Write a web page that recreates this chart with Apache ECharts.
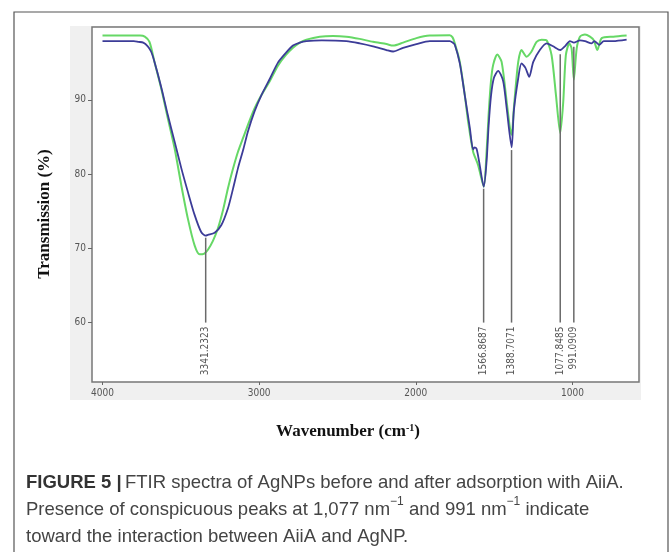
<!DOCTYPE html>
<html>
<head>
<meta charset="utf-8">
<script src="https://cdn.jsdelivr.net/npm/echarts@6/dist/echarts.min.js"></script>
<style>
  html, body { margin: 0; padding: 0; background: #fff; }
  #chart { width: 670px; height: 552px; }
</style>
</head>
<body>
<div id="chart"></div>
<script>
// green spectrum (before adsorption)
const greenWn = [4000, 3760, 3730, 3700, 3668, 3625, 3583, 3540, 3497, 3455, 3412, 3380, 3350, 3327, 3295, 3263, 3230, 3199, 3167, 3135, 3100, 3072, 3030, 2986, 2930, 2880, 2830, 2784, 2740, 2698, 2613, 2528, 2443, 2358, 2273, 2187, 2145, 2081, 1996, 1911, 1783, 1765, 1751, 1719, 1687, 1666, 1634, 1602, 1566, 1548, 1535, 1520, 1506, 1480, 1452, 1420, 1399, 1388, 1375, 1367, 1346, 1325, 1293, 1261, 1229, 1197, 1165, 1133, 1105, 1078, 1059, 1042, 1020, 1005, 991, 973, 952, 920, 888, 863, 841, 813, 739, 654];
const greenT = [98.65, 98.65, 98.5, 97.8, 95.1, 91.5, 87.5, 83.5, 78.5, 74.0, 70.4, 69.2, 69.3, 69.8, 71.0, 72.7, 75.2, 78.1, 80.7, 83.0, 85.0, 86.6, 88.8, 90.6, 92.6, 94.6, 96.0, 97.0, 97.7, 98.1, 98.5, 98.6, 98.5, 98.2, 97.8, 97.5, 97.3, 97.7, 98.3, 98.65, 98.7, 98.4, 97.6, 95.1, 90.6, 87.1, 83.0, 81.2, 78.3, 83.0, 88.0, 92.5, 94.7, 96.1, 95.1, 89.8, 86.2, 85.3, 88.5, 90.6, 95.1, 96.7, 95.8, 96.5, 97.8, 98.1, 98.0, 96.0, 90.6, 85.5, 89.6, 96.0, 97.6, 96.9, 92.7, 96.9, 98.5, 98.8, 98.5, 98.0, 96.7, 98.3, 98.5, 98.65];

// blue spectrum (after adsorption)
const blueWn = [4000, 3800, 3770, 3740, 3711, 3690, 3668, 3625, 3583, 3540, 3497, 3455, 3412, 3370, 3341, 3327, 3284, 3242, 3199, 3167, 3135, 3100, 3072, 3030, 2986, 2930, 2880, 2830, 2784, 2740, 2698, 2600, 2443, 2358, 2273, 2187, 2145, 2081, 1996, 1911, 1783, 1765, 1751, 1719, 1687, 1655, 1634, 1625, 1612, 1595, 1566, 1548, 1535, 1520, 1502, 1474, 1442, 1420, 1388, 1374, 1346, 1325, 1300, 1276, 1250, 1208, 1165, 1123, 1077, 1048, 1016, 991, 952, 920, 877, 860, 829, 800, 740, 654];
const blueT = [97.9, 97.9, 97.8, 97.7, 97.2, 96.5, 95.1, 91.7, 87.95, 84.4, 80.8, 77.6, 74.5, 72.2, 71.7, 71.8, 72.1, 73.1, 75.4, 78.0, 80.8, 83.4, 85.7, 88.4, 90.6, 92.9, 95.0, 96.3, 97.3, 97.7, 97.9, 98.0, 97.9, 97.6, 97.2, 96.7, 96.5, 97.0, 97.5, 97.9, 97.9, 97.7, 97.4, 94.9, 90.6, 86.2, 83.3, 83.6, 83.4, 81.6, 78.3, 81.7, 86.5, 90.5, 92.9, 93.9, 92.5, 88.9, 83.6, 88.5, 92.9, 94.9, 94.3, 93.1, 95.1, 96.7, 97.6, 97.2, 96.7, 97.2, 97.9, 97.7, 98.0, 97.9, 97.6, 97.9, 97.4, 97.9, 97.9, 98.1];

// marked peaks
const peakWn = [3341.2323, 1566.8687, 1388.7071, 1077.8485, 991.0909];
const peakT = [71.7, 78.3, 83.5, 96.4, 97.4];

const xTicks = [4000, 3000, 2000, 1000];
const yTicks = [60, 70, 80, 90];

const pairs = (xs, ys) => xs.map((x, i) => [x, ys[i]]);

const tickFont = "'Liberation Sans Narrow', 'DejaVu Sans Condensed', 'Liberation Sans', sans-serif";
const serif = "'Liberation Serif', 'DejaVu Serif', serif";
const sans = "'Liberation Sans', Arial, sans-serif";

const chart = echarts.init(document.getElementById("chart"), null, { renderer: "canvas" });

chart.setOption({
  animation: false,
  grid: {
    left: 92,
    top: 27,
    right: 31,
    bottom: 170,
    show: true,
    backgroundColor: "#fff",
    borderColor: "#777",
    borderWidth: 1.5,
  },
  xAxis: {
    type: "value",
    inverse: true,
    min: 575,
    max: 4067,
    splitNumber: 4,
    axisLine: { show: false },
    splitLine: { show: false },
    axisTick: { length: 3, lineStyle: { color: "#666" } },
    axisLabel: {
      showMinLabel: false,
      showMaxLabel: false,
      margin: 6,
      color: "#555",
      fontSize: 10,
      fontFamily: tickFont,
      formatter: (v) => (xTicks.includes(v) ? String(v) : ""),
    },
  },
  yAxis: {
    type: "value",
    min: 52,
    max: 99.8,
    splitNumber: 5,
    axisLine: { show: false },
    splitLine: { show: false },
    axisTick: { length: 4, lineStyle: { color: "#666" } },
    axisLabel: {
      showMinLabel: false,
      showMaxLabel: false,
      margin: 6,
      color: "#555",
      fontSize: 10,
      fontFamily: tickFont,
      formatter: (v) => (yTicks.includes(v) ? String(v) : ""),
    },
  },
  graphic: [
    {
      type: "rect",
      z: -10,
      shape: { x: 70, y: 26, width: 571, height: 374 },
      style: { fill: "#f0f0f0" },
    },
    {
      type: "rect",
      shape: { x: 14, y: 12, width: 654, height: 600 },
      style: { fill: null, stroke: "#555", lineWidth: 1.2 },
    },
    {
      type: "text",
      x: 45,
      y: 214,
      rotation: Math.PI / 2,
      style: {
        text: "Transmission (%)",
        align: "center",
        verticalAlign: "middle",
        font: "bold 17px " + serif,
        fill: "#111",
      },
    },
    {
      type: "text",
      x: 348,
      y: 432,
      style: {
        text: "{t|Wavenumber (cm}{s|-1}{t|)}",
        align: "center",
        verticalAlign: "middle",
        rich: {
          t: { font: "bold 17px " + serif, fill: "#111" },
          s: { font: "bold 10px " + serif, fill: "#111", verticalAlign: "top", padding: [0, 0, 7, 0] },
        },
      },
    },
    {
      type: "text",
      x: 26,
      y: 469,
      style: {
        text:
          "{b|FIGURE 5 |} {n|FTIR spectra of AgNPs before and after adsorption with AiiA.}\n" +
          "{n|Presence of conspicuous peaks at 1,077 nm}{s|\u22121}{n| and 991 nm}{s|\u22121}{n| indicate}\n" +
          "{n|toward the interaction between AiiA and AgNP.}",
        align: "left",
        verticalAlign: "top",
        rich: {
          b: { font: "bold 18.5px " + sans, fill: "#333", lineHeight: 27 },
          n: { font: "18.5px " + sans, fill: "#444", lineHeight: 27 },
          s: { font: "12px " + sans, fill: "#444", lineHeight: 27, verticalAlign: "top", padding: [0, 0, 9, 0] },
        },
      },
    },
  ],
  series: [
    {
      name: "AgNPs",
      type: "line",
      data: pairs(greenWn, greenT),
      symbol: "none",
      smooth: 0.25,
      lineStyle: { color: "#66d866", width: 2 },
      z: 3,
    },
    {
      name: "AgNPs + AiiA",
      type: "line",
      data: pairs(blueWn, blueT),
      symbol: "none",
      smooth: 0.25,
      lineStyle: { color: "#3c3c98", width: 1.8 },
      z: 4,
    },
    {
      name: "peaks",
      type: "custom",
      z: 5,
      data: pairs(peakWn, peakT),
      encode: { x: 0, y: 1 },
      renderItem: (params, api) => {
        const top = api.coord([api.value(0), api.value(1)]);
        const bot = api.coord([api.value(0), 60]);
        return {
          type: "group",
          children: [
            {
              type: "line",
              shape: { x1: top[0], y1: top[1] + 2, x2: bot[0], y2: bot[1] },
              style: { stroke: "#6a6a6a", lineWidth: 1.5 },
            },
            {
              type: "text",
              x: bot[0],
              y: bot[1] + 4,
              rotation: Math.PI / 2,
              style: {
                text: api.value(0).toFixed(4),
                align: "right",
                verticalAlign: "middle",
                font: "10px " + tickFont,
                fill: "#555",
              },
            },
          ],
        };
      },
    },
  ],
});
</script>
</body>
</html>
